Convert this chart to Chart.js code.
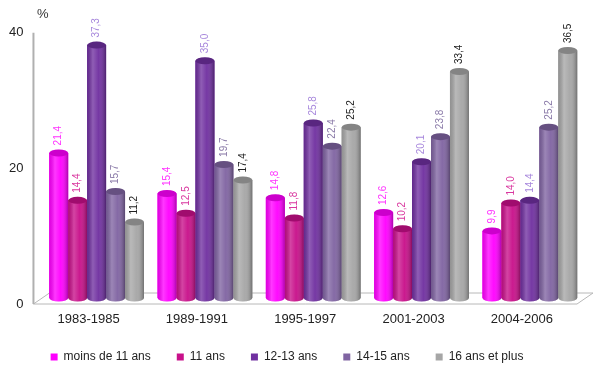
<!DOCTYPE html>
<html lang="fr">
<head>
<meta charset="utf-8">
<script src="https://cdn.jsdelivr.net/npm/chart.js@4.4.1/dist/chart.umd.min.js"></script>
<style>
  html, body { margin: 0; background: #fff; }
  #wrap { width: 600px; height: 368px; position: relative; }
</style>
</head>
<body>
<div id="wrap"><canvas id="chart"></canvas></div>
<script>
const periods = ['1983-1985', '1989-1991', '1995-1997', '2001-2003', '2004-2006'];
const groups = ['moins de 11 ans', '11 ans', '12-13 ans', '14-15 ans', '16 ans et plus'];
const under11 = [21.4, 15.4, 14.8, 12.6, 9.9];
const age11 = [14.4, 12.5, 11.8, 10.2, 14.0];
const age12to13 = [37.3, 35.0, 25.8, 20.1, 14.4];
const age14to15 = [15.7, 19.7, 22.4, 23.8, 25.2];
const age16plus = [11.2, 17.4, 25.2, 33.4, 36.5];
const yMin = 0;
const yMax = 40;
const yStep = 20;

const FONT = '"Liberation Sans", Arial, sans-serif';
const barColors = ['#ff00ff', '#c8108a', '#7030a0', '#8064a2', '#a6a6a6'];
const labelColors = ['#ff33ff', '#d9379f', '#a787dc', '#8a7aa8', '#222222'];

const fmt = (v) => v.toFixed(1).replace('.', ',');

// plancher 3D + axe vertical + "%"
const floorPlugin = {
  id: 'floor',
  beforeDatasetsDraw(chart) {
    const { ctx, chartArea: a, scales: { y } } = chart;
    const base = y.getPixelForValue(yMin);
    const front = base + 6;
    const back = base - 5;
    ctx.save();
    ctx.strokeStyle = '#b8b8b8';
    ctx.lineWidth = 1;
    ctx.beginPath();
    ctx.moveTo(a.left - 9, front);
    ctx.lineTo(a.right - 7, front);
    ctx.lineTo(a.right + 9, back);
    ctx.lineTo(a.left + 7, back);
    ctx.closePath();
    ctx.stroke();

    ctx.lineWidth = 2;
    ctx.strokeStyle = '#b0b0b0';
    ctx.beginPath();
    ctx.moveTo(a.left - 9, y.getPixelForValue(yMax) + 6);
    ctx.lineTo(a.left - 9, front);
    ctx.stroke();

    ctx.fillStyle = '#333';
    ctx.font = '13px ' + FONT;
    ctx.textBaseline = 'middle';
    ctx.fillText('%', 37, 14);
    ctx.restore();
  },
};

// cylindres + étiquettes verticales
const cylinderPlugin = {
  id: 'cylinders',
  afterDatasetsDraw(chart) {
    const { ctx } = chart;
    chart.data.datasets.forEach((ds, i) => {
      const meta = chart.getDatasetMeta(i);
      meta.data.forEach((bar, j) => {
        const { x, y, base, width } = bar.getProps(['x', 'y', 'base', 'width'], true);
        const l = x - width / 2;
        const r = x + width / 2;
        const rx = width / 2;
        const ry = 3.5;
        const g = ctx.createLinearGradient(l, 0, r, 0);
        g.addColorStop(0, 'rgba(0,0,0,0.12)');
        g.addColorStop(0.3, 'rgba(255,255,255,0.22)');
        g.addColorStop(0.6, 'rgba(255,255,255,0.04)');
        g.addColorStop(1, 'rgba(0,0,0,0.32)');

        ctx.save();
        ctx.beginPath();
        ctx.moveTo(l, y);
        ctx.lineTo(l, base);
        ctx.ellipse(x, base, rx, ry, 0, Math.PI, 0, true);
        ctx.lineTo(r, y);
        ctx.closePath();
        ctx.fillStyle = ds.backgroundColor;
        ctx.fill();
        ctx.fillStyle = g;
        ctx.fill();

        ctx.beginPath();
        ctx.ellipse(x, y, rx, ry, 0, 0, Math.PI * 2);
        ctx.fillStyle = ds.backgroundColor;
        ctx.fill();
        ctx.fillStyle = 'rgba(0,0,0,0.2)';
        ctx.fill();

        ctx.translate(x, y - ry - 4);
        ctx.rotate(-Math.PI / 2);
        ctx.font = '10px ' + FONT;
        ctx.fillStyle = labelColors[i];
        ctx.textAlign = 'left';
        ctx.textBaseline = 'middle';
        ctx.fillText(fmt(ds.data[j]), 0, 0);
        ctx.restore();
      });
    });
  },
};

const series = [under11, age11, age12to13, age14to15, age16plus];

new Chart(document.getElementById('chart'), {
  type: 'bar',
  data: {
    labels: periods,
    datasets: series.map((data, i) => ({
      label: groups[i],
      data,
      backgroundColor: barColors[i],
      borderWidth: 0,
      categoryPercentage: 0.875,
      barPercentage: 1,
    })),
  },
  options: {
    responsive: true,
    maintainAspectRatio: false,
    animation: false,
    layout: { padding: { top: 26, left: -10, right: 16, bottom: 0 } },
    plugins: {
      tooltip: { enabled: false },
      legend: {
        position: 'bottom',
        maxHeight: 43,
        labels: {
          boxWidth: 7,
          boxHeight: 7,
          padding: 26,
          color: '#222',
          font: { family: FONT, size: 12 },
        },
      },
    },
    scales: {
      x: {
        grid: { display: false, drawTicks: false },
        border: { display: false },
        ticks: { color: '#222', font: { family: FONT, size: 13 }, padding: 14, labelOffset: -8 },
        afterFit: (scale) => { scale.height = 27; },
      },
      y: {
        min: yMin,
        max: yMax,
        grid: { display: false, drawTicks: false },
        border: { display: false },
        ticks: { stepSize: yStep, color: '#222', font: { family: FONT, size: 13 }, padding: 19, labelOffset: 6 },
      },
    },
  },
  plugins: [floorPlugin, cylinderPlugin],
});
</script>
</body>
</html>
